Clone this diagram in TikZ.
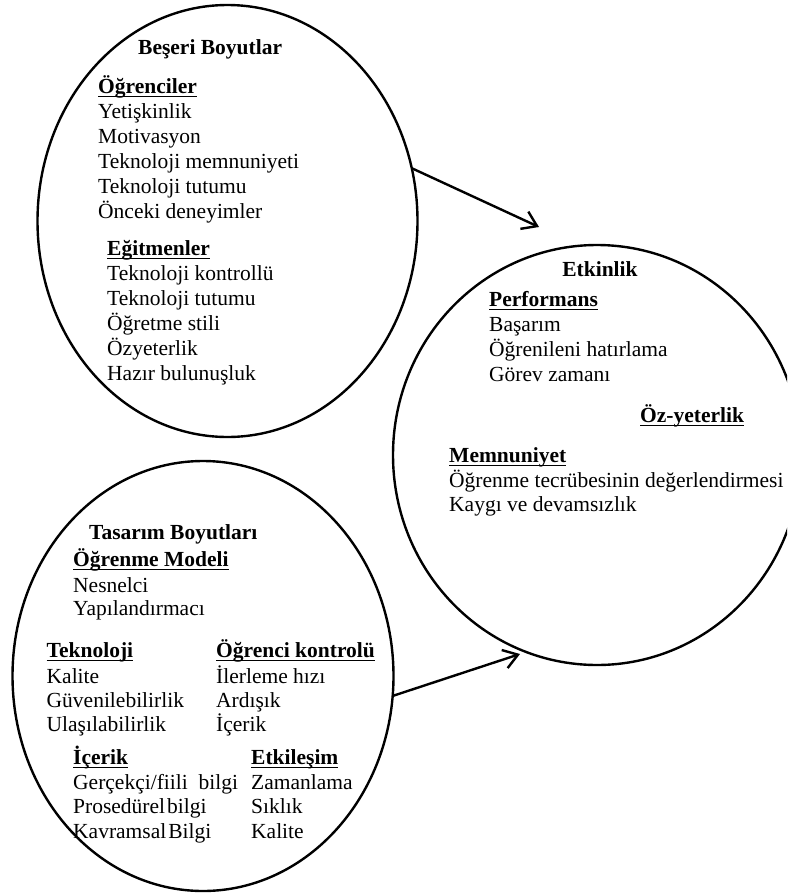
\documentclass[tikz,border=0pt]{standalone}
\usepackage{fontspec}
\setmainfont{Liberation Serif}
\usetikzlibrary{shapes.geometric,arrows.meta}
% bold heading with a word-processor style underline
\newcommand\hdr[1]{\setbox0\hbox{\bfseries #1}\rlap{\rule[-4.2pt]{\wd0}{1.5pt}}\box0}
\begin{document}
\begin{tikzpicture}[x=1pt,y=-1pt,
  bubble/.style={draw, line width=2.4pt, ellipse, inner sep=0pt, outer sep=0pt},
  txt/.style={anchor=base west, inner sep=0pt, font=\fontsize{21.5}{25}\selectfont},
  ttl/.style={txt, font=\fontsize{21.5}{25}\selectfont\bfseries},
  flow/.style={line width=2.4pt, -{Straight Barb[length=14pt,width=19pt,line width=2.4pt]}}]
\clip (0,0) rectangle (787,894);

% the three groups
\node[bubble, minimum width=380pt, minimum height=432pt] (beseri) at (227.5,221) {};
\node[bubble, minimum width=408pt, minimum height=420pt] (etkinlik) at (597,455) {};
\node[bubble, minimum width=381pt, minimum height=430pt] (tasarim) at (203,676) {};

% arrows toward the outcome group
\coordinate (tip1) at (539,227);
\coordinate (tip2) at (520,654);
\draw[flow] (beseri.16) -- (tip1);
\draw[flow] (tasarim.-6) -- (tip2);

% human dimensions
\node[ttl] (t-beseri) at (138,54) {Beşeri Boyutlar};
\node[txt] (h-ogr) at (98,93) {\hdr{Öğrenciler}};
\foreach \s [count=\i] in {Yetişkinlik, Motivasyon, Teknoloji memnuniyeti, Teknoloji tutumu, Önceki deneyimler}
  \node[txt] (ogr\i) at (98,{118+25*(\i-1)}) {\s};
\node[txt] (h-egit) at (107,255) {\hdr{Eğitmenler}};
\foreach \s [count=\i] in {Teknoloji kontrollü, Teknoloji tutumu, Öğretme stili, Özyeterlik, Hazır bulunuşluk}
  \node[txt] (egit\i) at (107,{280+25*(\i-1)}) {\s};

% effectiveness
\node[ttl, anchor=base] (t-etk) at (600,276) {Etkinlik};
\node[txt] (h-perf) at (489,306) {\hdr{Performans}};
\foreach \s [count=\i] in {Başarım, Öğrenileni hatırlama, Görev zamanı}
  \node[txt] (perf\i) at (489,{331+25*(\i-1)}) {\s};
\node[txt] (h-oz) at (640,422) {\hdr{Öz-yeterlik}};
\node[txt] (h-mem) at (449,462) {\hdr{Memnuniyet}};
\foreach \s [count=\i] in {Öğrenme tecrübesinin değerlendirmesi, Kaygı ve devamsızlık}
  \node[txt] (mem\i) at (449,{487+24*(\i-1)}) {\s};

% design dimensions
\node[ttl] (t-tas) at (89,539) {Tasarım Boyutları};
\node[txt] (h-model) at (73,566) {\hdr{Öğrenme Modeli}};
\foreach \s [count=\i] in {Nesnelci, Yapılandırmacı}
  \node[txt] (model\i) at (73,{592+23.5*(\i-1)}) {\s};
\node[txt] (h-tek) at (46.5,657) {\hdr{Teknoloji}};
\foreach \s [count=\i] in {Kalite, Güvenilebilirlik, Ulaşılabilirlik}
  \node[txt] (tek\i) at (46.5,{683+24.2*(\i-1)}) {\s};
\node[txt] (h-ctrl) at (216,657) {\hdr{Öğrenci kontrolü}};
\foreach \s [count=\i] in {İlerleme hızı, Ardışık, İçerik}
  \node[txt] (ctrl\i) at (216,{683+24.2*(\i-1)}) {\s};
\node[txt] (h-ice) at (73,764) {\hdr{İçerik}};
\foreach \s [count=\i] in {Gerçekçi/fiili\ \ bilgi, Prosedürel\kern2pt bilgi, Kavramsal\kern2pt Bilgi}
  \node[txt] (ice\i) at (73,{789.5+24.3*(\i-1)}) {\s};
\node[txt] (h-etl) at (251,764) {\hdr{Etkileşim}};
\foreach \s [count=\i] in {Zamanlama, Sıklık, Kalite}
  \node[txt] (etl\i) at (251,{789.5+24.3*(\i-1)}) {\s};
\end{tikzpicture}
\end{document}
